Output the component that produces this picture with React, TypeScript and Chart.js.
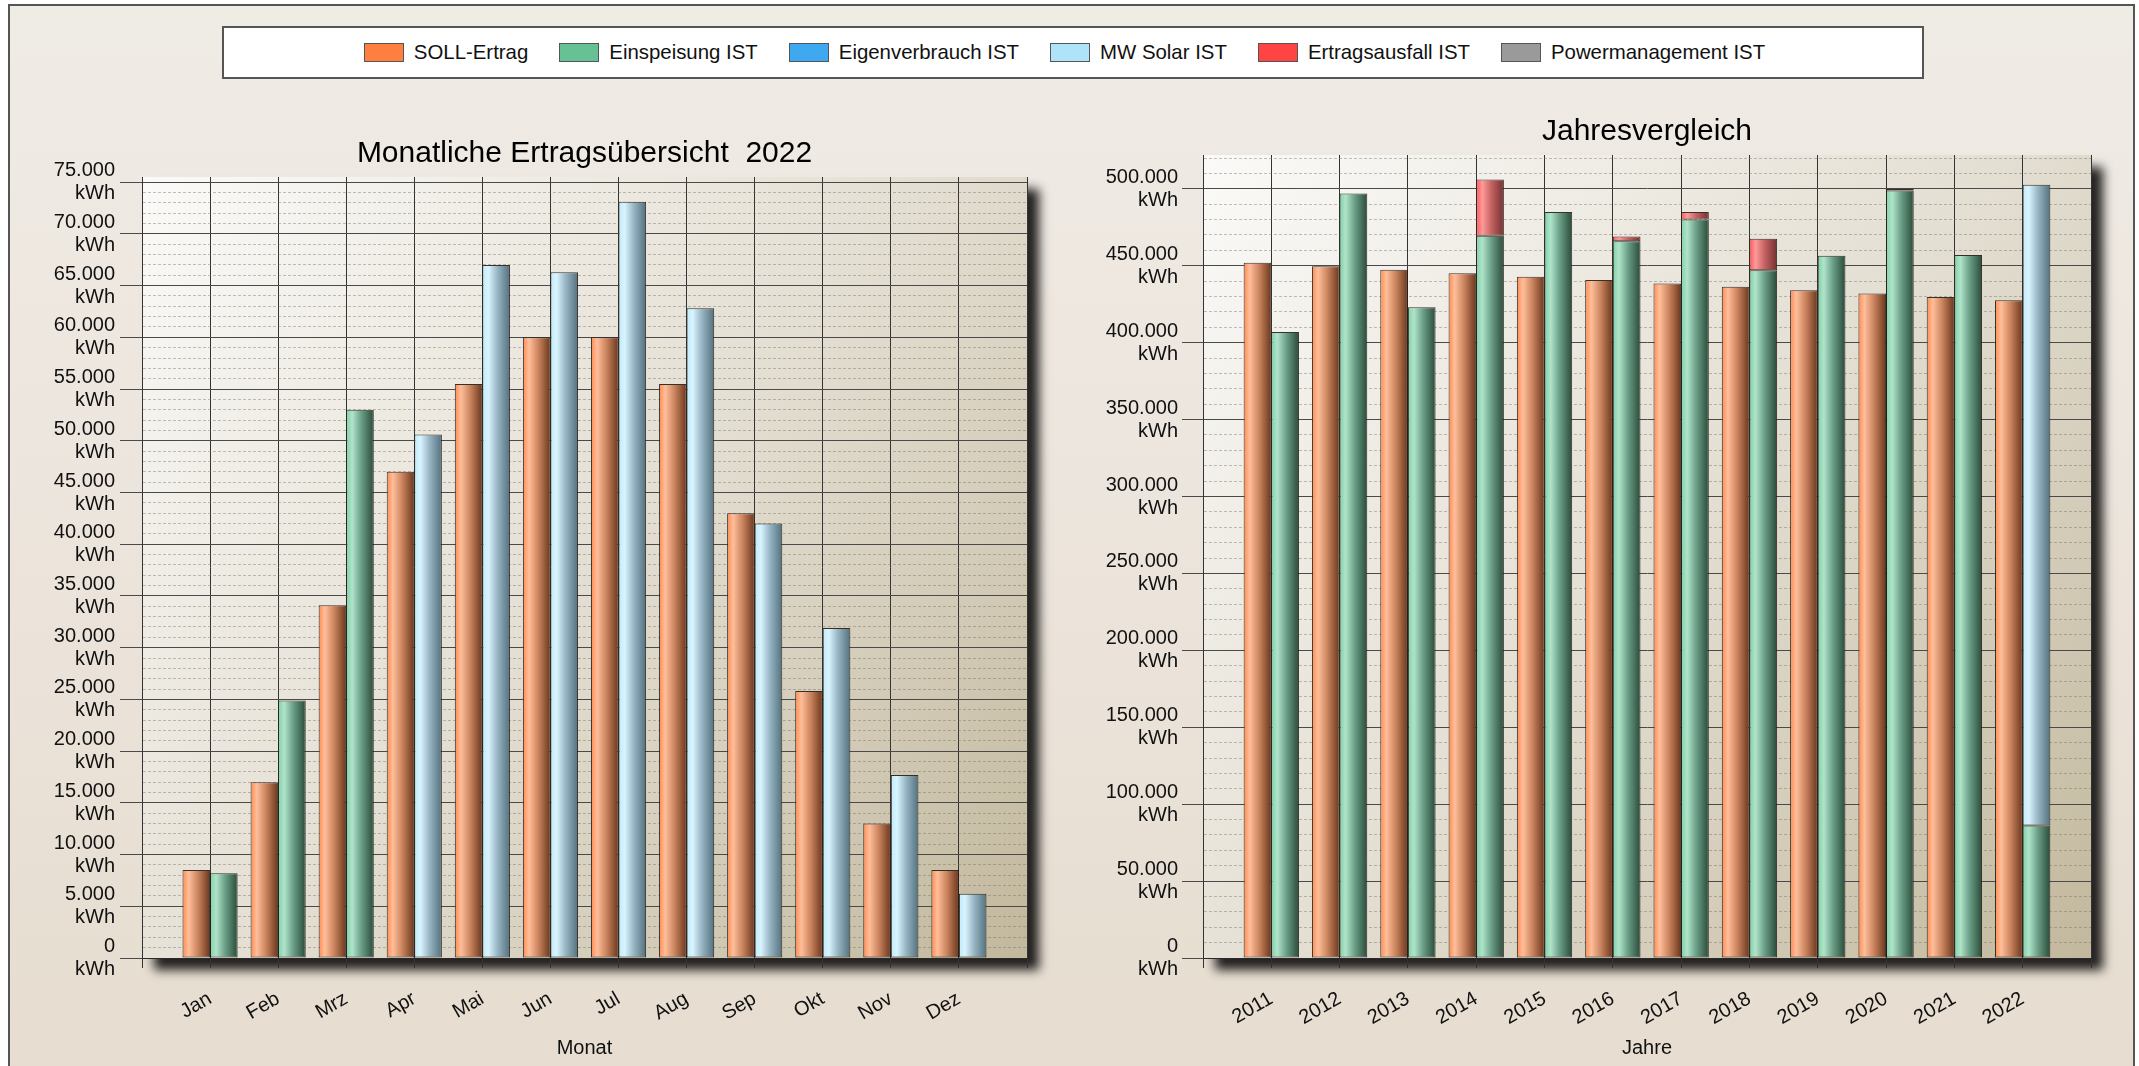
import React, { useEffect, useRef } from 'react';
import { Chart, registerables } from 'chart.js';

Chart.register(...registerables);

const FONT = "'Liberation Sans', Arial, Helvetica, sans-serif";

// ---------- data: monthly overview 2022 ----------
const months = ['Jan', 'Feb', 'Mrz', 'Apr', 'Mai', 'Jun', 'Jul', 'Aug', 'Sep', 'Okt', 'Nov', 'Dez'];
const sollMonat = [8500, 17000, 34100, 47000, 55500, 60000, 60000, 55500, 43000, 25800, 13000, 8500];
const einspeisungMonat = [8200, 24900, 53000, null, null, null, null, null, null, null, null, null];
const eigenverbrauchMonat = [null, null, null, null, null, null, null, null, null, null, null, null];
const mwSolarMonat = [null, null, null, 50600, 67000, 66300, 73100, 62800, 42000, 31900, 17700, 6200];
const ausfallMonat = [null, null, null, null, null, null, null, null, null, null, null, null];
const powerMonat = [null, null, null, null, null, null, null, null, null, null, null, null];

// ---------- data: yearly comparison ----------
const years = ['2011', '2012', '2013', '2014', '2015', '2016', '2017', '2018', '2019', '2020', '2021', '2022'];
const sollJahr = [452000, 449700, 447400, 445200, 442900, 440700, 438500, 436300, 434100, 431900, 429700, 427600];
const einspeisungJahr = [407000, 497000, 423000, 469500, 485000, 466000, 480000, 447000, 456500, 499000, 457000, 86100];
const eigenverbrauchJahr = [null, null, null, null, null, null, null, null, null, null, null, null];
const mwSolarJahr = [null, null, null, null, null, null, null, null, null, null, null, 416500];
const ausfallJahr = [null, null, null, 36500, null, 3000, 5000, 20500, null, 1000, null, null];
const powerJahr = [null, null, null, null, null, null, null, null, null, null, null, null];

// axis settings
const monatMax = 75500;
const monatMinorStep = 1000;
const monatMajorStep = 5000;
const jahrMax = 522000;
const jahrMinorStep = 10000;
const jahrMajorStep = 50000;

const legendItems = [
  { label: 'SOLL-Ertrag', color: '#ff7f41' },
  { label: 'Einspeisung IST', color: '#66c194' },
  { label: 'Eigenverbrauch IST', color: '#3ea8f0' },
  { label: 'MW Solar IST', color: '#aee3f9' },
  { label: 'Ertragsausfall IST', color: '#ff4444' },
  { label: 'Powermanagement IST', color: '#9a9a9a' },
];

const SHADES: Record<string, string[]> = {
  orange: ['#ff8a50', '#ffbe9a', '#cc8660', '#6a361c'],
  green: ['#7ed2a8', '#afe4ca', '#6a9e86', '#294a3a'],
  blue: ['#3ea8f0', '#8fd0fa', '#2f7fb5', '#164a70'],
  light: ['#c0ebfd', '#d8f4ff', '#98b5c4', '#53707f'],
  red: ['#ff5555', '#ff9a9a', '#c46262', '#733030'],
  gray: ['#a0a0a0', '#d0d0d0', '#808080', '#404040'],
};

const pad = (arr: (number | null)[]) => [null, ...arr, null];
const fmt = (v: number) => String(v).replace(/\B(?=(\d{3})+(?!\d))/g, '.');

const barShade = {
  id: 'barShade',
  beforeDatasetsDraw(chart: any) {
    const ctx = chart.ctx;
    chart.data.datasets.forEach((ds: any, i: number) => {
      const meta = chart.getDatasetMeta(i);
      const stops = SHADES[ds.shade];
      meta.data.forEach((el: any) => {
        const { x, width } = el.getProps(['x', 'width'], true);
        if (!isFinite(x) || !width || !el.options) return;
        const g = ctx.createLinearGradient(x - width / 2, 0, x + width / 2, 0);
        g.addColorStop(0, stops[0]);
        g.addColorStop(0.22, stops[1]);
        g.addColorStop(0.55, stops[2]);
        g.addColorStop(1, stops[3]);
        el.options.backgroundColor = g;
      });
    });
  },
};

const plotBg = {
  id: 'plotBg',
  beforeDraw(chart: any) {
    const { ctx, chartArea: a } = chart;
    ctx.save();
    const g = ctx.createLinearGradient(a.left, a.top, a.right, a.bottom);
    g.addColorStop(0, '#fbfaf8');
    g.addColorStop(0.5, '#e4dfd3');
    g.addColorStop(1, '#c2b89d');
    ctx.shadowColor = 'rgba(0,0,0,0.85)';
    ctx.shadowBlur = 10;
    ctx.shadowOffsetX = 12;
    ctx.shadowOffsetY = 12;
    ctx.fillStyle = g;
    ctx.fillRect(a.left, a.top, a.right - a.left, a.bottom - a.top);
    ctx.restore();
  },
};

type Cfg = {
  labels: string[];
  soll: (number | null)[];
  einsp: (number | null)[];
  eigen: (number | null)[];
  solar: (number | null)[];
  ausfall: (number | null)[];
  power: (number | null)[];
  title: string;
  titleTop: number;
  max: number;
  minor: number;
  major: number;
  yWidth: number;
  tickLen: number;
  tickPad: number;
  rightPad: number;
  xTitle: string;
};

function makeConfig(c: Cfg): any {
  const ds = (label: string, data: (number | null)[], stack: string, shade: string) => ({
    label,
    data: pad(data),
    stack,
    shade,
    backgroundColor: () => SHADES[shade][0],
    borderColor: 'rgba(35,28,22,0.9)',
    borderWidth: (ctx: any) => (ctx.raw ? 1 : 0),
    borderSkipped: false,
    categoryPercentage: 0.81,
    barPercentage: 1.0,
  });
  const major = c.major;
  const minor = c.minor;
  const val = (ctx: any) => (ctx.tick ? Math.round(Number(ctx.tick.value)) : null);
  return {
    type: 'bar',
    data: {
      labels: ['', ...c.labels, ''],
      datasets: [
        ds('SOLL-Ertrag', c.soll, 'soll', 'orange'),
        ds('Einspeisung IST', c.einsp, 'ist', 'green'),
        ds('Eigenverbrauch IST', c.eigen, 'ist', 'blue'),
        ds('MW Solar IST', c.solar, 'ist', 'light'),
        ds('Ertragsausfall IST', c.ausfall, 'ist', 'red'),
        ds('Powermanagement IST', c.power, 'ist', 'gray'),
      ],
    },
    options: {
      responsive: false,
      animation: false,
      devicePixelRatio: 1,
      layout: { padding: { left: 0, right: c.rightPad, top: 0, bottom: 0 } },
      plugins: {
        legend: { display: false },
        tooltip: { enabled: false },
        title: {
          display: true,
          text: c.title,
          color: '#000',
          fullSize: false,
          font: { family: FONT, size: 30, weight: 'normal' },
          padding: { top: c.titleTop, bottom: 5 },
        },
      },
      scales: {
        x: {
          type: 'category',
          stacked: true,
          offset: false,
          afterFit: (s: any) => {
            s.height = 108;
          },
          grid: {
            offset: false,
            color: '#333',
            lineWidth: 1,
            tickLength: 10,
            tickColor: '#333',
            drawOnChartArea: true,
          },
          border: { display: true, color: '#2a2a2a', width: 1 },
          ticks: {
            autoSkip: false,
            minRotation: 30,
            maxRotation: 30,
            padding: 19,
            color: '#111',
            font: { family: FONT, size: 20 },
          },
          title: {
            display: true,
            text: c.xTitle,
            color: '#111',
            font: { family: FONT, size: 20 },
            padding: { top: 0, bottom: 6 },
          },
        },
        y: {
          type: 'linear',
          stacked: true,
          min: 0,
          max: c.max,
          afterFit: (s: any) => {
            s.width = c.yWidth;
          },
          afterBuildTicks: (s: any) => {
            const t: { value: number }[] = [];
            for (let v = 0; v <= c.max; v += minor) t.push({ value: v });
            s.ticks = t;
          },
          grid: {
            lineWidth: 1,
            tickLength: c.tickLen,
            color: (ctx: any) => {
              const v = val(ctx);
              if (v === null) return '#444';
              if (v % major === 0) return '#4a4a4a';
              if (v % minor === 0) return 'rgba(115,110,100,0.42)';
              return 'rgba(0,0,0,0)';
            },
            tickColor: (ctx: any) => {
              const v = val(ctx);
              if (v !== null && v % major === 0) return '#4a4a4a';
              return 'rgba(0,0,0,0)';
            },
          },
          border: {
            display: true,
            color: '#333',
            dash: (ctx: any) => {
              const v = val(ctx);
              if (v !== null && v % major !== 0) return [3, 2];
              return [];
            },
          },
          ticks: {
            stepSize: minor,
            autoSkip: false,
            padding: c.tickPad,
            color: '#111',
            font: { family: FONT, size: 20, lineHeight: 1.15 },
            callback: (value: any) => {
              const v = Math.round(Number(value));
              return v % major === 0 ? [fmt(v), 'kWh'] : '';
            },
          },
        },
      },
    },
    plugins: [plotBg, barShade],
  };
}

function BarChart({ cfg, left, width }: { cfg: Cfg; left: number; width: number }) {
  const ref = useRef<HTMLCanvasElement | null>(null);
  useEffect(() => {
    const chart = new Chart(ref.current as HTMLCanvasElement, makeConfig(cfg));
    return () => chart.destroy();
  }, []);
  return (
    <canvas
      ref={ref}
      width={width}
      height={1066}
      style={{ position: 'absolute', left, top: 0, width, height: 1066, zIndex: 2 }}
    />
  );
}

const monthCfg: Cfg = {
  labels: months,
  soll: sollMonat,
  einsp: einspeisungMonat,
  eigen: eigenverbrauchMonat,
  solar: mwSolarMonat,
  ausfall: ausfallMonat,
  power: powerMonat,
  title: 'Monatliche Ertragsübersicht  2022',
  titleTop: 136,
  max: monatMax,
  minor: monatMinorStep,
  major: monatMajorStep,
  yWidth: 142,
  tickLen: 22,
  tickPad: 5,
  rightPad: 43,
  xTitle: 'Monat',
};

const yearCfg: Cfg = {
  labels: years,
  soll: sollJahr,
  einsp: einspeisungJahr,
  eigen: eigenverbrauchJahr,
  solar: mwSolarJahr,
  ausfall: ausfallJahr,
  power: powerJahr,
  title: 'Jahresvergleich',
  titleTop: 114,
  max: jahrMax,
  minor: jahrMinorStep,
  major: jahrMajorStep,
  yWidth: 133,
  tickLen: 21,
  tickPad: 4,
  rightPad: 48,
  xTitle: 'Jahre',
};

export default function App() {
  return (
    <div
      style={{
        position: 'absolute',
        left: 0,
        top: 0,
        width: 2139,
        height: 1066,
        overflow: 'hidden',
        background: '#ffffff',
        fontFamily: FONT,
      }}
    >
      <div
        style={{
          position: 'absolute',
          left: 8,
          top: 4,
          width: 2123,
          height: 1100,
          border: '2px solid #555',
          background: 'linear-gradient(to bottom, #efebe5 0%, #ede6de 40%, #e6dccf 100%)',
          zIndex: 1,
        }}
      />
      <BarChart cfg={monthCfg} left={0} width={1070} />
      <BarChart cfg={yearCfg} left={1070} width={1069} />
      <div
        style={{
          position: 'absolute',
          left: 222,
          top: 26,
          width: 1698,
          height: 49,
          border: '2px solid #555',
          background: '#ffffff',
          zIndex: 3,
          display: 'flex',
          alignItems: 'center',
          justifyContent: 'center',
        }}
      >
        <div style={{ display: 'flex', alignItems: 'center', marginLeft: -17 }}>
          {legendItems.map((it, i) => (
            <div
              key={it.label}
              style={{ display: 'flex', alignItems: 'center', marginLeft: i === 0 ? 0 : 31 }}
            >
              <span
                style={{
                  display: 'inline-block',
                  width: 38,
                  height: 17,
                  background: it.color,
                  border: '1px solid #555',
                  marginRight: 10,
                }}
              />
              <span style={{ fontSize: 20.4, color: '#111', whiteSpace: 'nowrap' }}>{it.label}</span>
            </div>
          ))}
        </div>
      </div>
    </div>
  );
}
